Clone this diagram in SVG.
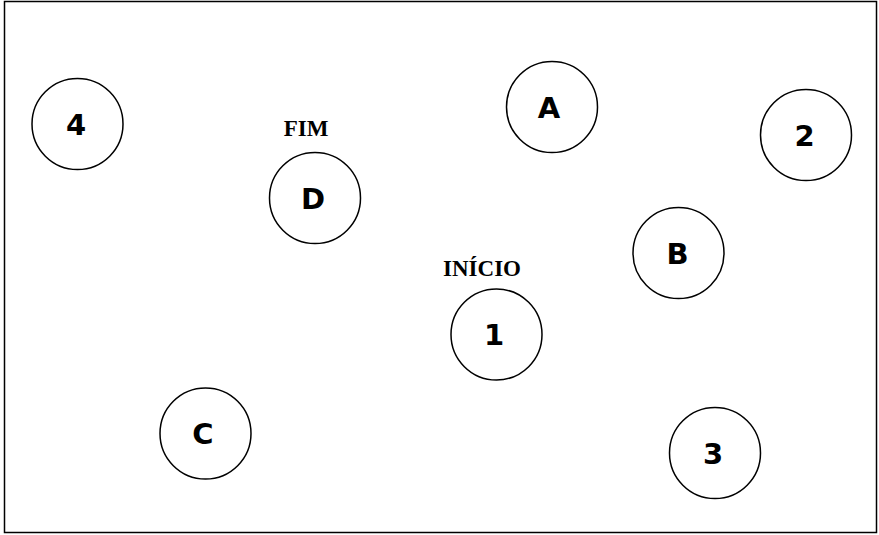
<svg xmlns="http://www.w3.org/2000/svg" width="879" height="535" viewBox="0 0 879 535">
<style>
.frame{fill:#fff;stroke:#000;stroke-width:1.5}
.node circle{fill:#fff;stroke:#000;stroke-width:1.5}
.node text{font-family:"DejaVu Sans","Liberation Sans",sans-serif;font-weight:bold;font-size:29px;text-anchor:middle;fill:#000}
.lbl{font-family:"Liberation Serif",serif;font-weight:bold;font-size:23px;text-anchor:middle;fill:#000}
</style>
<rect x="0" y="0" width="879" height="535" fill="#fff"/>
<rect class="frame" x="4.5" y="1.5" width="872" height="531"/>
<g id="connectors"></g>
<g id="node-4" class="node"><circle cx="77.5" cy="124" r="45.5"/><text x="76" y="135">4</text></g>
<g id="node-D" class="node"><circle cx="315" cy="198" r="45.5"/><text x="313" y="208.5">D</text></g>
<g id="node-A" class="node"><circle cx="552" cy="107" r="45.5"/><text x="549" y="117.5">A</text></g>
<g id="node-2" class="node"><circle cx="806" cy="135" r="45.5"/><text x="804.5" y="145.5">2</text></g>
<g id="node-B" class="node"><circle cx="678.5" cy="253" r="45.5"/><text x="677.5" y="263.5">B</text></g>
<g id="node-1" class="node"><circle cx="496.5" cy="334.5" r="45.5"/><text x="494" y="345">1</text></g>
<g id="node-C" class="node"><circle cx="205.5" cy="433.5" r="45.5"/><text x="203" y="444">C</text></g>
<g id="node-3" class="node"><circle cx="715" cy="453" r="45.5"/><text x="713" y="464">3</text></g>
<text class="lbl" x="306" y="136">FIM</text>
<text class="lbl" x="482" y="276">INÍCIO</text>
</svg>
